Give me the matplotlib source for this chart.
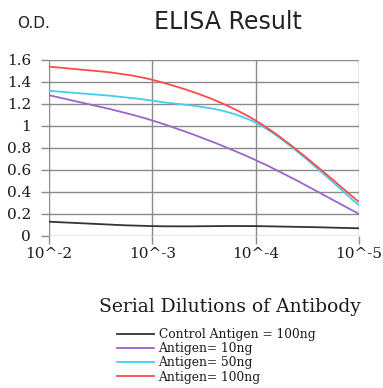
import matplotlib
matplotlib.use("Agg")
import matplotlib.pyplot as plt
from matplotlib.path import Path
from matplotlib.patches import PathPatch
from matplotlib.lines import Line2D
import numpy as np

dilutions = ["10^-2", "10^-3", "10^-4", "10^-5"]
control_100ng = [0.13, 0.09, 0.09, 0.07]
antigen_10ng = [1.28, 1.05, 0.69, 0.20]
antigen_50ng = [1.32, 1.23, 1.03, 0.28]
antigen_100ng = [1.54, 1.42, 1.05, 0.31]
labels = ["Control Antigen = 100ng", "Antigen= 10ng", "Antigen= 50ng", "Antigen= 100ng"]
colors = ["#333333", "#9966cc", "#44ccf0", "#ff4a4a"]
series = [control_100ng, antigen_10ng, antigen_50ng, antigen_100ng]

W, H = 383, 388
fig = plt.figure(figsize=(W / 100, H / 100), dpi=100)
ax = fig.add_axes([49 / W, 1 - 236 / H, 310 / W, 176 / H])

x = np.arange(len(dilutions), dtype=float)

def smooth_path(xs, ys):
    pts = np.column_stack([xs, ys])
    verts = [pts[0]]
    codes = [Path.MOVETO]
    n = len(pts)
    for i in range(n - 1):
        p0 = pts[i - 1] if i > 0 else pts[i]
        p1 = pts[i]
        p2 = pts[i + 1]
        p3 = pts[i + 2] if i + 2 < n else pts[i + 1]
        c1 = p1 + (p2 - p0) / 6.0
        c2 = p2 - (p3 - p1) / 6.0
        verts += [c1, c2, p2]
        codes += [Path.CURVE4] * 3
    return Path(verts, codes)

handles = []
for ys, c, lab in zip(series, colors, labels):
    patch = PathPatch(smooth_path(x, np.array(ys)), facecolor="none", edgecolor=c, lw=1.3, zorder=3)
    ax.add_patch(patch)
    handles.append(Line2D([], [], color=c, lw=1.3, label=lab))

ax.set_xlim(0, 3)
ax.set_ylim(0, 1.6)
ax.set_xticks(x)
ax.set_xticklabels(dilutions)
ax.set_yticks(np.arange(0, 1.61, 0.2))
ax.set_yticklabels(["0", "0.2", "0.4", "0.6", "0.8", "1", "1.2", "1.4", "1.6"])
ax.grid(True, color="#8a8a8a", lw=1.0)
ax.set_axisbelow(True)
for s in ax.spines.values():
    s.set_visible(False)
ax.tick_params(axis="both", length=6, color="#8a8a8a", width=1.0,
               labelsize=11, pad=2)
ax.tick_params(axis="y", pad=7)
for lbl in ax.get_xticklabels() + ax.get_yticklabels():
    lbl.set_fontfamily("DejaVu Serif")
    lbl.set_color("#1a1a1a")

fig.text(228 / W, 1 - 22 / H, "ELISA Result", ha="center", va="center",
         fontsize=17, family="DejaVu Sans", color="#222222")
fig.text(17 / W, 1 - 24 / H, "O.D.", ha="left", va="center",
         fontsize=11, family="DejaVu Sans", color="#222222")
fig.text(230 / W, 1 - 307 / H, "Serial Dilutions of Antibody", ha="center", va="center",
         fontsize=13.5, family="DejaVu Serif", color="#1a1a1a")

leg = fig.legend(handles=handles, loc="upper left", bbox_to_anchor=(117 / W, 1 - 328 / H),
                 frameon=False, prop={"family": "DejaVu Serif", "size": 8.8},
                 handlelength=3.0, handletextpad=0.4, labelspacing=0.1, borderpad=0, borderaxespad=0)
for t in leg.get_texts():
    t.set_color("#1a1a1a")

fig.savefig("out.png", dpi=100)
